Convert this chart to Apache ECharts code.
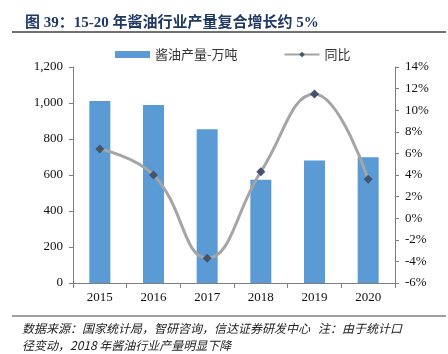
<!DOCTYPE html>
<html>
<head>
<meta charset="utf-8">
<script src="https://cdn.jsdelivr.net/npm/echarts@6/dist/echarts.min.js"></script>
<style>
  html, body { margin: 0; padding: 0; background: #fff; }
  #chart { width: 448px; height: 354px; }
</style>
</head>
<body>
<div id="chart"></div>
<script>
    // 数据
    var years = ['2015', '2016', '2017', '2018', '2019', '2020'];
    var output = [1011, 989, 854, 574, 680, 698];
    var yoy = [6.4, 4.0, -3.7, 4.3, 11.5, 3.6];

    var serif = '"Liberation Serif", "Noto Sans CJK SC", serif';
    var cjk = '"Noto Sans CJK SC", sans-serif';

    var chart = echarts.init(document.getElementById('chart'), null, {
        renderer: 'canvas'
    });
    chart.setOption({
        animation: false,
        title: {
            text: '图 39：15-20 年酱油行业产量复合增长约 5%',
            left: 20,
            top: 11,
            textStyle: {
                color: '#1F3864',
                fontSize: 15,
                fontWeight: 'bold',
                fontFamily: serif
            }
        },
        legend: {
            top: 43,
            left: 110,
            itemGap: 46,
            itemWidth: 35,
            itemHeight: 7,
            textStyle: { fontSize: 13, color: '#333', fontFamily: cjk },
            data: [
                { name: '酱油产量-万吨', icon: 'rect' },
                { name: '同比' }
            ]
        },
        grid: {
            left: 73,
            right: 53,
            top: 67,
            bottom: 71
        },
        xAxis: [{
            type: 'category',
            data: years,
            axisTick: { show: true, length: 5, lineStyle: { color: '#7f7f7f' } },
            axisLine: { lineStyle: { color: '#7f7f7f' } },
            axisLabel: { color: '#111', fontSize: 13, fontFamily: serif, margin: 8 }
        }],
        yAxis: [
            {
                type: 'value',
                min: 0,
                max: 1200,
                interval: 200,
                splitLine: { show: false },
                axisTick: { show: true, length: 4, lineStyle: { color: '#7f7f7f' } },
                axisLine: { show: true, lineStyle: { color: '#7f7f7f' } },
                axisLabel: {
                    color: '#111',
                    fontSize: 13,
                    fontFamily: serif,
                    margin: 10,
                    formatter: function (v) { return v.toLocaleString('en-US'); }
                }
            },
            {
                type: 'value',
                min: -6,
                max: 14,
                interval: 2,
                splitLine: { show: false },
                axisTick: { show: true, length: 4, lineStyle: { color: '#7f7f7f' } },
                axisLine: { show: true, lineStyle: { color: '#7f7f7f' } },
                axisLabel: {
                    color: '#111',
                    fontSize: 13,
                    fontFamily: serif,
                    margin: 10,
                    formatter: '{value}%'
                }
            }
        ],
        series: [
            {
                name: '酱油产量-万吨',
                type: 'bar',
                barWidth: 21,
                itemStyle: { color: '#5B9BD5' },
                data: output
            },
            {
                name: '同比',
                type: 'line',
                yAxisIndex: 1,
                smooth: 0.45,
                symbol: 'diamond',
                symbolSize: 9,
                lineStyle: { color: '#A5A5A5', width: 3 },
                itemStyle: { color: '#44546A' },
                data: yoy
            }
        ],
        graphic: [
            {
                type: 'line',
                shape: { x1: 12, y1: 32, x2: 446, y2: 32 },
                style: { stroke: '#404040', lineWidth: 1.5 }
            },
            {
                type: 'line',
                shape: { x1: 12, y1: 316, x2: 446, y2: 316 },
                style: { stroke: '#404040', lineWidth: 1 }
            },
            {
                type: 'text',
                left: 22,
                top: 320,
                style: {
                    text: '数据来源：国家统计局，智研咨询，信达证券研发中心   注：由于统计口\n径变动，2018 年酱油行业产量明显下降',
                    font: 'italic 12px "Noto Sans CJK SC", sans-serif',
                    fill: '#222',
                    lineHeight: 17
                }
            }
        ]
    });
</script>
</body>
</html>
